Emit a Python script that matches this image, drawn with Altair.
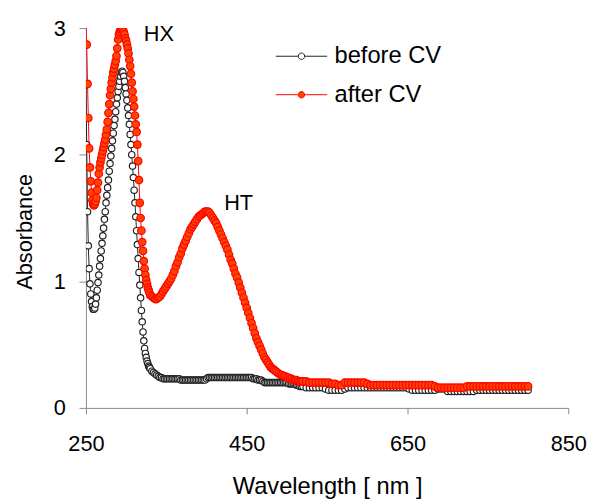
import altair as alt
import pandas as pd

# wavelength sampling grid (nm): 1 nm, then 2 nm, then 4 nm
wl_1nm = list(range(250, 330))
wl_2nm = list(range(330, 520, 2))
wl_4nm = list(range(520, 801, 4))
wavelength = wl_1nm + wl_2nm + wl_4nm

series_names = ["before CV", "after CV"]

before_1nm = [2.55, 2.08, 1.55, 1.28, 1.10, 0.98, 0.90, 0.84, 0.80, 0.78,
              0.78, 0.79, 0.82, 0.87, 0.93, 0.99, 1.05, 1.12, 1.18, 1.24,
              1.30, 1.36, 1.42, 1.49, 1.55, 1.62, 1.68, 1.74, 1.80, 1.87,
              1.93, 1.99, 2.05, 2.11, 2.17, 2.23, 2.28, 2.34, 2.40, 2.45,
              2.50, 2.54, 2.58, 2.62, 2.65, 2.66, 2.65, 2.62, 2.58, 2.53,
              2.48, 2.43, 2.37, 2.31, 2.24, 2.16, 2.08, 2.00, 1.91, 1.82,
              1.72, 1.62, 1.51, 1.40, 1.29, 1.18, 1.07, 0.97, 0.87, 0.77,
              0.68, 0.60, 0.53, 0.47, 0.43, 0.40, 0.37, 0.35, 0.33, 0.32]
before_2nm = [0.31, 0.29, 0.28, 0.27, 0.26, 0.25, 0.24, 0.24, 0.23, 0.23,
              0.23, 0.23, 0.23, 0.23, 0.23, 0.23, 0.23, 0.23, 0.23, 0.22,
              0.22, 0.22, 0.22, 0.22, 0.22, 0.22, 0.22, 0.22, 0.22, 0.22,
              0.22, 0.22, 0.22, 0.22, 0.22, 0.23, 0.24, 0.24, 0.24, 0.24,
              0.24, 0.24, 0.24, 0.24, 0.24, 0.24, 0.24, 0.24, 0.24, 0.24,
              0.24, 0.24, 0.24, 0.24, 0.24, 0.24, 0.24, 0.24, 0.24, 0.24,
              0.24, 0.24, 0.24, 0.24, 0.23, 0.23, 0.23, 0.22, 0.22, 0.22,
              0.21, 0.20, 0.20, 0.20, 0.20, 0.20, 0.20, 0.20, 0.20, 0.20,
              0.20, 0.20, 0.20, 0.20, 0.20, 0.20, 0.19, 0.19, 0.19, 0.19,
              0.19, 0.18, 0.18, 0.17, 0.17]
before_4nm = [0.17, 0.16, 0.16, 0.16, 0.16, 0.16, 0.16, 0.15, 0.14, 0.14,
              0.14, 0.14, 0.14, 0.15, 0.16, 0.16, 0.16, 0.16, 0.16, 0.16,
              0.16, 0.16, 0.16, 0.16, 0.16, 0.16, 0.16, 0.16, 0.16, 0.16,
              0.16, 0.16, 0.16, 0.15, 0.14, 0.14, 0.14, 0.14, 0.14, 0.14,
              0.14, 0.14, 0.15, 0.15, 0.15, 0.13, 0.13, 0.13, 0.13, 0.13,
              0.13, 0.13, 0.13, 0.13, 0.14, 0.14, 0.14, 0.14, 0.14, 0.14,
              0.14, 0.14, 0.14, 0.14, 0.14, 0.14, 0.14, 0.14, 0.14, 0.14,
              0.14]

after_1nm = [3.05, 2.87, 2.56, 2.29, 2.05, 1.90, 1.79, 1.70, 1.64, 1.61,
             1.60, 1.61, 1.63, 1.66, 1.72, 1.78, 1.85, 1.90, 1.94, 1.97,
             2.00, 2.03, 2.06, 2.09, 2.12, 2.16, 2.20, 2.26, 2.33, 2.40,
             2.47, 2.52, 2.57, 2.61, 2.65, 2.68, 2.71, 2.74, 2.78, 2.84,
             2.91, 2.95, 2.97, 2.99, 3.00, 3.00, 2.99, 2.97, 2.95, 2.92,
             2.90, 2.87, 2.84, 2.80, 2.75, 2.70, 2.64, 2.57, 2.50, 2.44,
             2.38, 2.31, 2.24, 2.18, 2.08, 1.95, 1.80, 1.62, 1.50, 1.40,
             1.31, 1.24, 1.16, 1.10, 1.05, 1.01, 0.98, 0.95, 0.93, 0.91]
after_2nm = [0.89, 0.88, 0.87, 0.86, 0.86, 0.87, 0.88, 0.90, 0.92, 0.94,
             0.96, 0.98, 1.00, 1.02, 1.05, 1.08, 1.12, 1.15, 1.19, 1.22,
             1.26, 1.29, 1.32, 1.35, 1.38, 1.41, 1.43, 1.45, 1.47, 1.49,
             1.51, 1.52, 1.53, 1.54, 1.55, 1.55, 1.55, 1.54, 1.52, 1.50,
             1.48, 1.46, 1.43, 1.40, 1.37, 1.34, 1.31, 1.28, 1.25, 1.21,
             1.17, 1.14, 1.10, 1.06, 1.03, 0.99, 0.95, 0.91, 0.87, 0.83,
             0.79, 0.75, 0.71, 0.67, 0.63, 0.59, 0.55, 0.52, 0.49, 0.46,
             0.43, 0.40, 0.38, 0.36, 0.34, 0.32, 0.31, 0.30, 0.29, 0.28,
             0.27, 0.26, 0.26, 0.25, 0.25, 0.24, 0.24, 0.23, 0.23, 0.22,
             0.22, 0.22, 0.21, 0.21, 0.21]
after_4nm = [0.21, 0.21, 0.20, 0.20, 0.20, 0.20, 0.20, 0.20, 0.20, 0.19,
             0.19, 0.18, 0.18, 0.20, 0.20, 0.20, 0.20, 0.20, 0.20, 0.20,
             0.19, 0.18, 0.18, 0.18, 0.18, 0.18, 0.18, 0.18, 0.18, 0.18,
             0.18, 0.18, 0.18, 0.18, 0.18, 0.18, 0.18, 0.18, 0.18, 0.18,
             0.18, 0.17, 0.16, 0.16, 0.16, 0.16, 0.16, 0.16, 0.16, 0.16,
             0.16, 0.17, 0.17, 0.17, 0.17, 0.17, 0.17, 0.17, 0.17, 0.17,
             0.17, 0.17, 0.17, 0.17, 0.17, 0.17, 0.17, 0.17, 0.17, 0.17,
             0.17]

before_cv = before_1nm + before_2nm + before_4nm
after_cv = after_1nm + after_2nm + after_4nm
assert len(before_cv) == len(wavelength) == len(after_cv)

annot_text = ["HX", "HT"]
annot_x = [322, 422]
annot_y = [2.95, 1.62]

df = pd.concat([
    pd.DataFrame({"wavelength": wavelength, "absorbance": before_cv, "series": series_names[0]}),
    pd.DataFrame({"wavelength": wavelength, "absorbance": after_cv, "series": series_names[1]}),
])
ann = pd.DataFrame({"wavelength": annot_x, "absorbance": annot_y, "label": annot_text})

FONT = "Liberation Sans"
LEGEND_PATH = ("M-1,0L-0.125,0M0.125,0L1,0"
               "M0.125,0A0.125,0.125,0,1,1,-0.125,0A0.125,0.125,0,1,1,0.125,0")

stroke_scale = alt.Scale(domain=series_names, range=["#222222", "#ff0000"])
fill_scale = alt.Scale(domain=series_names, range=["#ffffff", "#ff4500"])
legend = alt.Legend(title=None, orient="none", legendX=192, legendY=2,
                    symbolType=LEGEND_PATH, symbolSize=2704, symbolStrokeWidth=1,
                    labelFontSize=24, labelFont=FONT, labelColor="black",
                    labelOffset=7, rowPadding=-8.5, symbolOpacity=1)

x_enc = alt.X("wavelength:Q",
              scale=alt.Scale(domain=[250, 850], nice=False, zero=False),
              axis=alt.Axis(values=[250, 450, 650, 850], title="Wavelength [ nm ]",
                            grid=False, tickSize=6, labelPadding=20, labelFlush=False,
                            labelFontSize=22, labelFont=FONT, labelColor="black",
                            titleFontSize=24, titleFont=FONT, titleFontWeight="normal",
                            titleColor="black", titleY=87, titleBaseline="alphabetic",
                            domainColor="#888888", tickColor="#888888"))
y_enc = alt.Y("absorbance:Q",
              scale=alt.Scale(domain=[0, 3], nice=False, zero=True),
              axis=alt.Axis(values=[0, 1, 2, 3], format="d", title="Absorbance",
                            grid=False, tickSize=7, labelPadding=14, labelFlush=False,
                            labelFontSize=22, labelFont=FONT, labelColor="black",
                            titleFontSize=22, titleFont=FONT, titleFontWeight="normal",
                            titleColor="black", titleX=-55, titleY=206,
                            titleBaseline="alphabetic",
                            domainColor="#888888", tickColor="#888888"))

base = alt.Chart(df)
layers = []
for name, size in [("before CV", 42), ("after CV", 58)]:
    sub = base.transform_filter(alt.datum.series == name)
    layers.append(sub.mark_line(strokeWidth=1, clip=True).encode(
        x=x_enc, y=y_enc,
        stroke=alt.Stroke("series:N", scale=stroke_scale, legend=legend)))
    layers.append(sub.mark_point(filled=True, opacity=1, size=size, strokeWidth=1.2,
                                 clip=True).encode(
        x=x_enc, y=y_enc,
        stroke=alt.Stroke("series:N", scale=stroke_scale, legend=legend),
        fill=alt.Fill("series:N", scale=fill_scale, legend=legend)))

text = alt.Chart(ann).mark_text(align="left", baseline="middle", fontSize=22,
                                font=FONT, color="black").encode(
    x=alt.X("wavelength:Q"), y=alt.Y("absorbance:Q"), text="label:N")
layers.append(text)

chart = alt.layer(*layers).properties(
    width=489, height=385,
    padding={"left": 79, "top": 17, "right": 22, "bottom": 94},
    autosize="none",
).configure_view(stroke=None)

chart.save("out.html", embed_options={"renderer": "svg", "actions": False})
